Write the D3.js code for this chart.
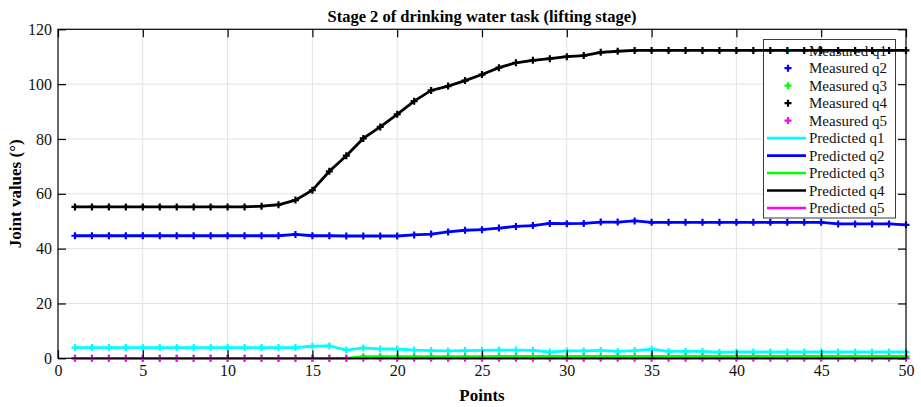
<!DOCTYPE html>
<html>
<head>
    <title>Stage 2 of drinking water task</title>
    <script src="https://d3js.org/d3.v7.min.js"></script>
    <style>
        body { margin: 0; background: #fff; }
        svg, svg text { font-family: "Liberation Serif", "Times New Roman", serif; }
    </style>
</head>
<body>
    <div id="chart"></div>

    <script>
        // points 1..50
        const points = d3.range(1, 51);

        const q1 = [3.9, 3.9, 3.9, 3.9, 3.9, 3.9, 3.9, 3.9, 3.9, 3.9,
                    3.9, 3.9, 3.9, 3.9, 4.4, 4.5, 3.0, 3.8, 3.4, 3.4,
                    3.0, 2.8, 2.7, 2.8, 2.9, 3.0, 3.0, 2.9, 2.3, 2.7,
                    2.7, 2.9, 2.5, 2.8, 3.3, 2.5, 2.5, 2.5, 2.2, 2.3,
                    2.3, 2.3, 2.3, 2.3, 2.3, 2.3, 2.3, 2.3, 2.3, 2.3];
        const q2 = [44.7, 44.7, 44.7, 44.7, 44.7, 44.7, 44.7, 44.7, 44.7, 44.7,
                    44.7, 44.7, 44.7, 45.2, 44.7, 44.7, 44.6, 44.6, 44.6, 44.6,
                    45.0, 45.3, 46.1, 46.7, 46.9, 47.5, 48.1, 48.4, 49.2, 49.1,
                    49.2, 49.7, 49.7, 50.1, 49.6, 49.6, 49.6, 49.6, 49.6, 49.6,
                    49.6, 49.6, 49.6, 49.6, 49.6, 49.0, 49.0, 49.0, 49.0, 48.7];
        const q3 = [0, 0, 0, 0, 0, 0, 0, 0, 0, 0,
                    0, 0, 0, 0, 0, 0, 0, 0.6, 0.6, 0.6,
                    0.6, 0.6, 0.6, 0.6, 0.6, 0.7, 0.7, 0.7, 0.7, 0.7,
                    0.7, 0.7, 0.7, 0.7, 0.7, 0.7, 0.7, 0.7, 0.7, 0.7,
                    0.7, 0.7, 0.7, 0.7, 0.7, 0.7, 0.7, 0.7, 0.7, 0.7];
        const q4 = [55.2, 55.2, 55.2, 55.2, 55.2, 55.2, 55.2, 55.2, 55.2, 55.2,
                    55.2, 55.5, 56.0, 57.7, 61.3, 68.2, 73.9, 80.2, 84.4, 89.0,
                    93.8, 97.7, 99.3, 101.3, 103.5, 106.0, 107.8, 108.7, 109.3, 110.0,
                    110.4, 111.6, 112.0, 112.3, 112.3, 112.3, 112.3, 112.3, 112.3, 112.3,
                    112.3, 112.3, 112.3, 112.3, 112.3, 112.3, 112.3, 112.3, 112.3, 112.3];
        const q5 = points.map(() => 0);

        const colors = ["#00ffff", "#0000ff", "#00ff00", "#000000", "#ff00ff"];
        const measured = [q1, q2, q3, q4, q5];
        const predicted = [q1, q2, q3, q4, q5];
        const names = ["q1", "q2", "q3", "q4", "q5"];

        const xTicks = d3.range(0, 51, 5);
        const yTicks = d3.range(0, 121, 20);

        const width = 921, height = 407;
        const pLeft = 58, pRight = 906, pTop = 29.3, pBottom = 358.3;
        const serif = "'Liberation Serif', 'Times New Roman', serif";

        const svg = d3.select("#chart").append("svg")
            .attr("width", width)
            .attr("height", height)
            .attr("font-family", serif);

        const x = d3.scaleLinear().domain([0, 50]).range([pLeft, pRight]);
        const y = d3.scaleLinear().domain([0, 120]).range([pBottom, pTop]);

        // grid
        svg.append("g").selectAll("line").data(xTicks.slice(1, -1)).enter().append("line")
            .attr("x1", d => x(d)).attr("x2", d => x(d))
            .attr("y1", pTop).attr("y2", pBottom)
            .attr("stroke", "#e3e3e3").attr("stroke-width", 1);
        svg.append("g").selectAll("line").data(yTicks.slice(1, -1)).enter().append("line")
            .attr("x1", pLeft).attr("x2", pRight)
            .attr("y1", d => y(d)).attr("y2", d => y(d))
            .attr("stroke", "#e3e3e3").attr("stroke-width", 1);

        // legend (sits under the data in the reference)
        const leg = svg.append("g");
        leg.append("rect")
            .attr("x", 763.5).attr("y", 39.5)
            .attr("width", 132).attr("height", 178.5)
            .attr("fill", "#fff").attr("stroke", "#3a3a3a").attr("stroke-width", 1);

        const legItems = names.map((n, i) => ({ label: "Measured " + n, color: colors[i], type: "m" }))
            .concat(names.map((n, i) => ({ label: "Predicted " + n, color: colors[i], type: "p" })));

        legItems.forEach((it, i) => {
            const ly = 50.7 + i * 17.48;
            if (it.type === "m") {
                leg.append("path")
                    .attr("d", `M${788 - 3.5},${ly}h7M${788},${ly - 3.5}v7`)
                    .attr("stroke", it.color).attr("stroke-width", 2.2);
            } else {
                leg.append("line")
                    .attr("x1", 767).attr("x2", 806)
                    .attr("y1", ly).attr("y2", ly)
                    .attr("stroke", it.color).attr("stroke-width", 2.6);
            }
            leg.append("text")
                .attr("x", 809).attr("y", ly + 5)
                .attr("font-family", serif)
                .attr("font-size", 15)
                .attr("fill", "#111")
                .text(it.label);
        });

        // measured markers
        const plus = (px, py) => `M${px - 3.5},${py}h7M${px},${py - 3.5}v7`;
        measured.forEach((s, i) => {
            svg.append("path")
                .attr("d", s.map((v, j) => plus(x(points[j]), y(v))).join(""))
                .attr("stroke", colors[i]).attr("stroke-width", 2.2)
                .attr("fill", "none");
        });

        // predicted lines
        const line = d3.line().x((d, j) => x(points[j])).y(d => y(d));
        predicted.forEach((s, i) => {
            svg.append("path")
                .datum(s)
                .attr("d", line)
                .attr("stroke", colors[i]).attr("stroke-width", 2.8)
                .attr("fill", "none");
        });

        // box + axes
        svg.append("rect")
            .attr("x", pLeft).attr("y", pTop)
            .attr("width", pRight - pLeft).attr("height", pBottom - pTop)
            .attr("fill", "none").attr("stroke", "#000").attr("stroke-width", 1.2);

        const xAxis = svg.append("g")
            .attr("transform", `translate(0,${pBottom})`)
            .call(d3.axisBottom(x).tickValues(xTicks).tickSize(-8).tickPadding(6));
        const xAxisTop = svg.append("g")
            .attr("transform", `translate(0,${pTop})`)
            .call(d3.axisTop(x).tickValues(xTicks).tickSize(-8).tickFormat(""));
        const yAxis = svg.append("g")
            .attr("transform", `translate(${pLeft},0)`)
            .call(d3.axisLeft(y).tickValues(yTicks).tickSize(-8).tickPadding(6));
        const yAxisR = svg.append("g")
            .attr("transform", `translate(${pRight},0)`)
            .call(d3.axisRight(y).tickValues(yTicks).tickSize(-8).tickFormat(""));

        [xAxis, xAxisTop, yAxis, yAxisR].forEach(g => {
            g.attr("font-family", serif).attr("font-size", 16);
            g.select(".domain").remove();
            g.selectAll(".tick line").attr("stroke", "#000").attr("stroke-width", 1.2);
            g.selectAll("text").attr("fill", "#111");
        });

        // titles
        svg.append("text")
            .attr("x", 482).attr("y", 22)
            .attr("text-anchor", "middle")
            .attr("font-weight", "bold")
            .attr("font-size", 16.5)
            .text("Stage 2 of drinking water task (lifting stage)");

        svg.append("text")
            .attr("x", 482).attr("y", 401)
            .attr("text-anchor", "middle")
            .attr("font-weight", "bold")
            .attr("font-size", 17)
            .text("Points");

        svg.append("text")
            .attr("transform", `translate(21,${(pTop + pBottom) / 2}) rotate(-90)`)
            .attr("text-anchor", "middle")
            .attr("font-weight", "bold")
            .attr("font-size", 17)
            .text("Joint values (°)");
    </script>
</body>
</html>
